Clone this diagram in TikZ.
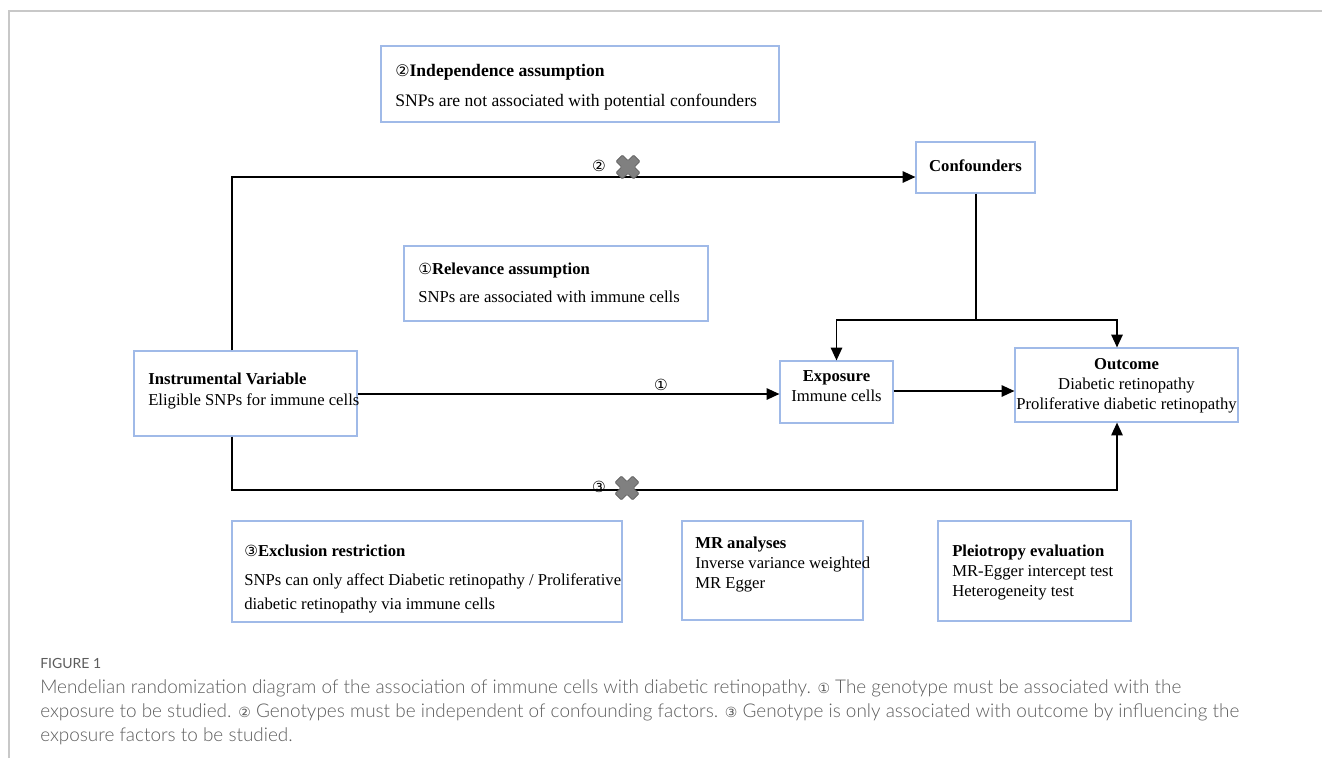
\documentclass[tikz,border=0pt]{standalone}
\usepackage{fontspec}
\setmainfont{Liberation Serif}
\newfontfamily\circfont{DejaVu Sans}
\newfontfamily\capfont{Lato}[UprightFont={* Light}]
\newfontfamily\capfontreg{Lato}
\usetikzlibrary{arrows.meta,fit}
\definecolor{boxblue}{RGB}{160,186,232}
\definecolor{framegray}{RGB}{200,200,200}
\definecolor{capgray}{RGB}{92,92,92}
\definecolor{crossfill}{RGB}{128,128,128}
\definecolor{crossline}{RGB}{95,95,95}
\newcommand\cnum[1]{{\circfont\fontsize{11.5}{14}\selectfont #1}}
\newcommand\capnum[1]{{\circfont\fontsize{10.5}{12}\selectfont #1}}
\newcommand\crossmark[1]{\draw[shift={#1}, rotate=45, fill=crossfill, draw=crossline, line width=0.5pt, rounded corners=0.8pt]
  (-4.5,-12.5) -- (4.5,-12.5) -- (4.5,-4.5) -- (12.5,-4.5) -- (12.5,4.5) -- (4.5,4.5) -- (4.5,12.5) -- (-4.5,12.5) -- (-4.5,4.5) -- (-12.5,4.5) -- (-12.5,-4.5) -- (-4.5,-4.5) -- cycle;}
\begin{document}
\begin{tikzpicture}[x=0.75pt,y=-0.75pt,
  bx/.style={draw=boxblue, line width=0.9pt, inner sep=0pt, fill=white},
  txt/.style={inner sep=0pt, font=\fontsize{12.5}{15}\selectfont, anchor=mid west},
  bigtxt/.style={inner sep=0pt, font=\fontsize{13.2}{16}\selectfont, anchor=mid west},
  ctxt/.style={inner sep=0pt, font=\fontsize{12.5}{15}\selectfont, anchor=mid},
  ln/.style={line width=1.1pt},
  arr/.style={line width=1.1pt, -{Triangle[length=9.5pt,width=8.5pt]}},
  captxt/.style={inner sep=0pt, anchor=mid west, text=capgray, font=\capfont\fontsize{14.2}{17}\selectfont}]
\useasboundingbox (0,0) rectangle (1322,758);
% page frame
\draw[framegray, line width=1pt] (9,758) -- (9,11) -- (1322,11);

% boxes
\node[bx, fit={(381,46) (779,122)}] (ind) {};
\node[bigtxt] (indT) at (395,73) {{\circfont\fontsize{12}{14}\selectfont ②}\textbf{Independence assumption}};
\node[bigtxt] (indB) at (395,103) {SNPs are not associated with potential confounders};

\node[bx, fit={(916,142) (1035,193)}] (conf) {};
\node[ctxt] (confT) at (975.5,168) {\textbf{Confounders}};

\node[bx, fit={(404,246) (708,321)}] (rel) {};
\node[txt] (relT) at (418,271) {\cnum{①}\textbf{Relevance assumption}};
\node[txt] (relB) at (418,299) {SNPs are associated with immune cells};

\node[bx, fit={(134,351) (357,436)}] (iv) {};
\node[txt] (ivT) at (148,381) {\textbf{Instrumental Variable}};
\node[txt] (ivB) at (148,402) {Eligible SNPs for immune cells};

\node[bx, fit={(780,361) (893,423)}] (expo) {};
\node[ctxt] (expoT) at (836.5,378) {\textbf{Exposure}};
\node[ctxt] (expoB) at (836.5,398) {Immune cells};

\node[bx, fit={(1015,348) (1238,422)}] (out) {};
\node[ctxt] (outT) at (1126.5,366) {\textbf{Outcome}};
\node[ctxt] (outB1) at (1126.5,386) {Diabetic retinopathy};
\node[ctxt] (outB2) at (1126.5,406) {Proliferative diabetic retinopathy};

\node[bx, fit={(232,521) (622,622)}] (exc) {};
\node[txt] (excT) at (244,553) {\cnum{③}\textbf{Exclusion restriction}};
\node[txt] (excB1) at (244,582) {SNPs can only affect Diabetic retinopathy / Proliferative};
\node[txt] (excB2) at (244,606) {diabetic retinopathy via immune cells};

\node[bx, fit={(682,521) (863,620)}] (mr) {};
\node[txt] (mrT) at (695,545) {\textbf{MR analyses}};
\node[txt] (mrB1) at (695,565) {Inverse variance weighted};
\node[txt] (mrB2) at (695,585) {MR Egger};

\node[bx, fit={(938,521) (1131,621)}] (ple) {};
\node[txt] (pleT) at (952,553) {\textbf{Pleiotropy evaluation}};
\node[txt] (pleB1) at (952,573) {MR-Egger intercept test};
\node[txt] (pleB2) at (952,593) {Heterogeneity test};

% connectors
\coordinate (tl) at (232,177);
\coordinate (bl) at (232,490);
\coordinate (oc) at (1117,490);
\coordinate (hub) at (976,320);
\draw[arr] (iv.north -| tl) -- (tl) -- (tl -| conf.west);
\draw[arr] (iv.east |- 0,394) -- (expo.west |- 0,394);
\draw[arr] (expo.east |- 0,391) -- (out.west |- 0,391);
\draw[ln] (conf.south -| hub) -- (hub);
\draw[arr] (hub) -- (hub -| expo.north) -- (expo.north);
\draw[arr] (hub) -- (hub -| oc) -- (oc |- out.north);
\draw[arr] (iv.south -| bl) -- (bl) -- (oc) -- (oc |- out.south);

% labels on connectors
\node[inner sep=0pt] (l2) at (599,166) {\cnum{②}};
\crossmark{(628,167)}
\node[inner sep=0pt] (l1) at (661,385) {\cnum{①}};
\node[inner sep=0pt] (l3) at (599,487) {\cnum{③}};
\crossmark{(627,488)}

% caption
\node[captxt, font=\capfontreg\fontsize{10.5}{12}\selectfont] (cap0) at (40,665) {FIGURE 1};
\node[captxt] (cap1) at (40,690) {Mendelian randomization diagram of the association of immune cells with diabetic retinopathy. \capnum{①} The genotype must be associated with the};
\node[captxt] (cap2) at (40,714) {exposure to be studied. \capnum{②} Genotypes must be independent of confounding factors. \capnum{③} Genotype is only associated with outcome by influencing the};
\node[captxt] (cap3) at (40,738) {exposure factors to be studied.};
\end{tikzpicture}
\end{document}
